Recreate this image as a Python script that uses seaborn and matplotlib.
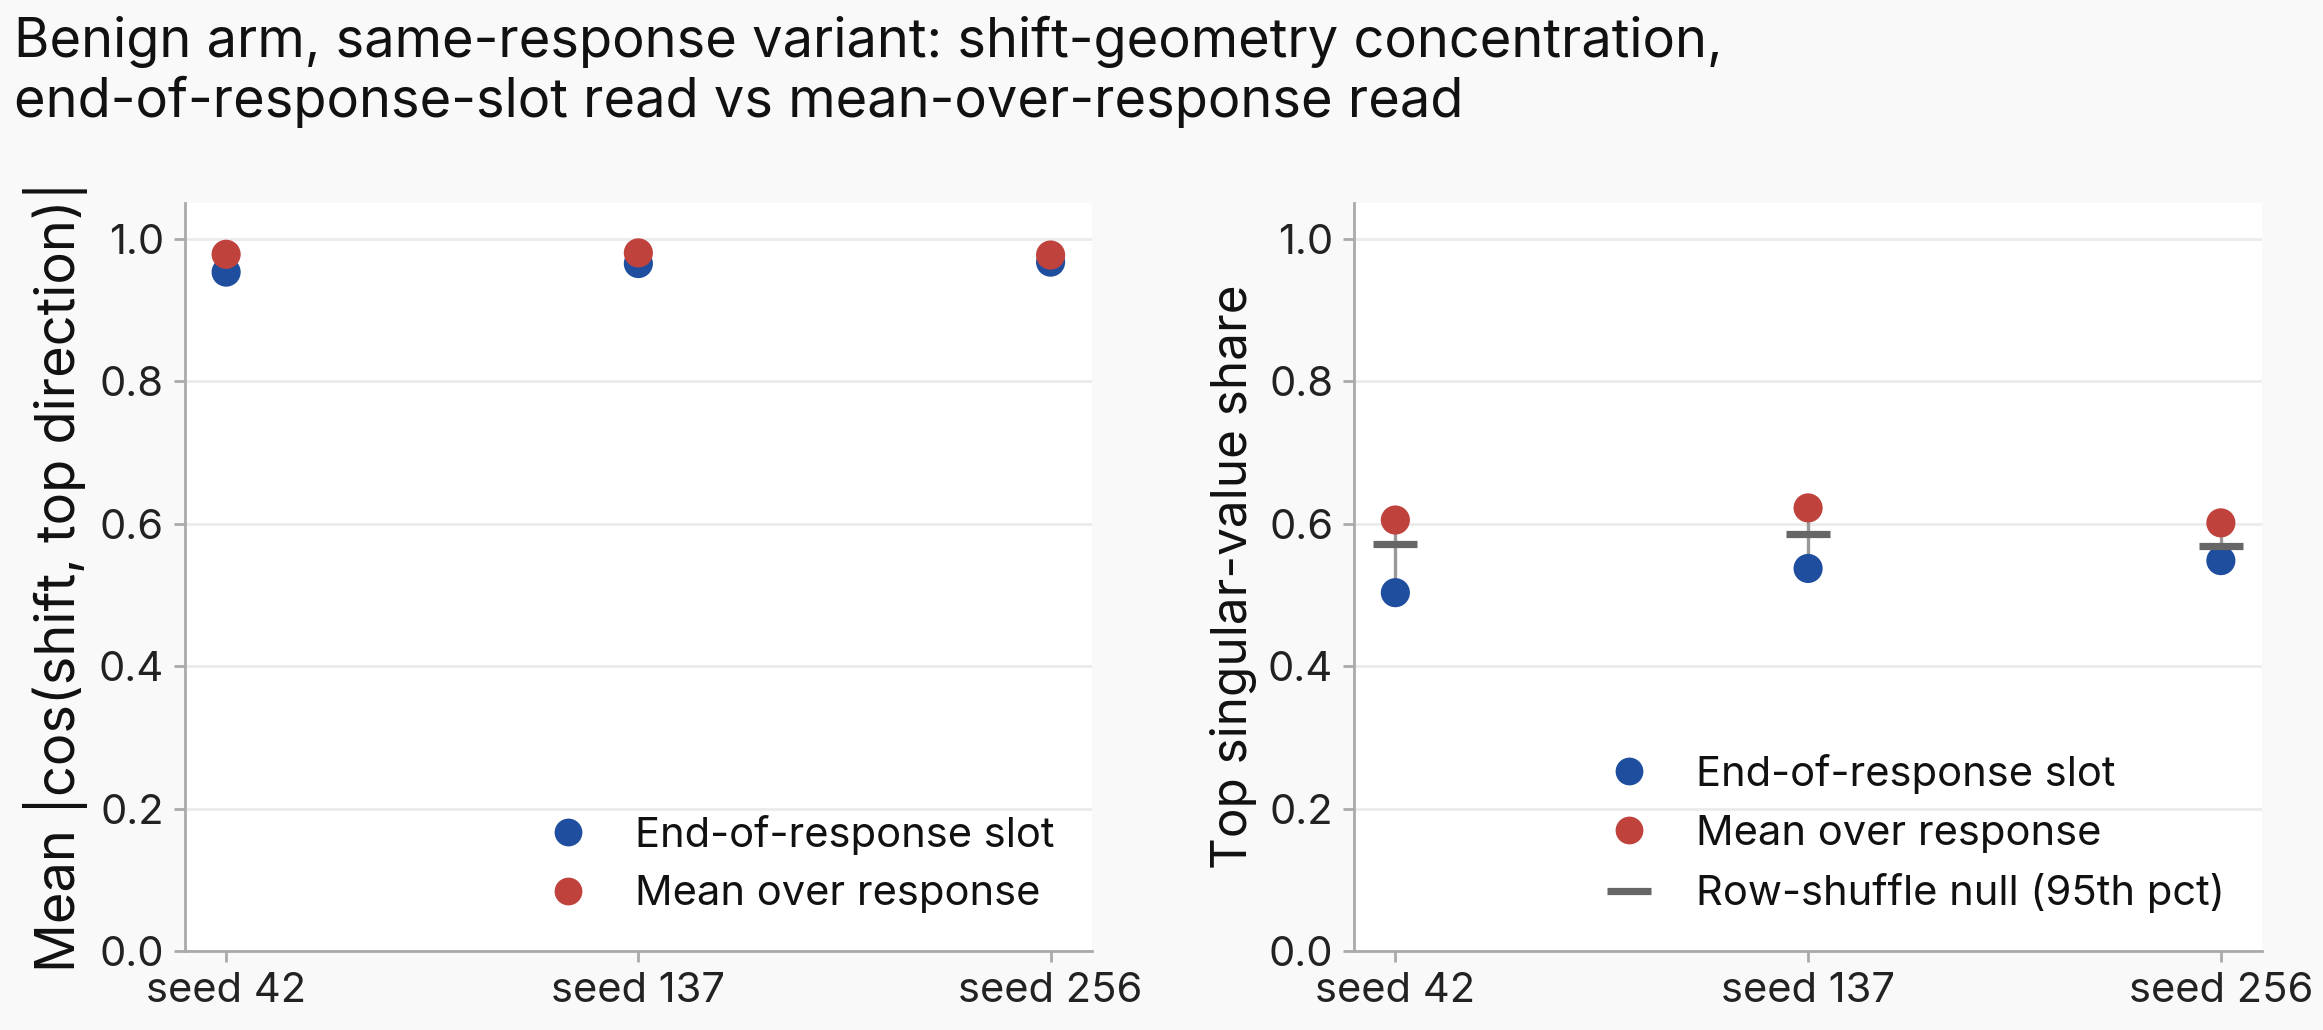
import numpy as np
import pandas as pd
import matplotlib
matplotlib.use("Agg")
import matplotlib.pyplot as plt
from matplotlib.lines import Line2D
import seaborn as sns

# data
seeds = ["seed 42", "seed 137", "seed 256"]
cos_end_slot = [0.953, 0.965, 0.967]
cos_mean_resp = [0.978, 0.980, 0.977]
share_end_slot = [0.503, 0.537, 0.548]
share_mean_resp = [0.605, 0.622, 0.601]
share_null95 = [0.572, 0.586, 0.568]

series_names = ["End-of-response slot", "Mean over response"]
colors = {"End-of-response slot": "#1f4e9f", "Mean over response": "#c0423d"}

sns.set_theme(style="white")
plt.rcParams["font.family"] = ["Inter", "DejaVu Sans"]
plt.rcParams["text.color"] = "#111111"

def long_df(a, b):
    return pd.DataFrame({
        "seed": seeds * 2,
        "value": list(a) + list(b),
        "read": [series_names[0]] * 3 + [series_names[1]] * 3,
    })

def style_ax(ax, ylabel, ylabel_size):
    ax.set_facecolor("white")
    ax.set_ylim(0, 1.05)
    ax.set_xlim(-0.1, 2.1)
    ax.set_yticks([0.0, 0.2, 0.4, 0.6, 0.8, 1.0])
    ax.set_yticklabels(["0.0", "0.2", "0.4", "0.6", "0.8", "1.0"])
    ax.grid(axis="y", color="#ebebeb", lw=1.0)
    ax.set_axisbelow(True)
    for s in ["top", "right"]:
        ax.spines[s].set_visible(False)
    for s in ["left", "bottom"]:
        ax.spines[s].set_color("#aaaaaa")
        ax.spines[s].set_linewidth(1.0)
    ax.tick_params(axis="both", colors="#aaaaaa", length=4, width=1.0,
                   labelsize=15, labelcolor="#222222", left=True, bottom=True)
    ax.set_xlabel("")
    ax.set_ylabel(ylabel, fontsize=ylabel_size, color="#111111")

fig = plt.figure(figsize=(11.615, 5.15), dpi=200, facecolor="#f9f9f9")
ax1 = fig.add_axes([0.0796, 0.0767, 0.3904, 0.7262])
ax2 = fig.add_axes([0.5829, 0.0767, 0.3909, 0.7262])

# left panel
df1 = long_df(cos_end_slot, cos_mean_resp)
ax1.vlines(seeds, np.minimum(cos_end_slot, cos_mean_resp),
           np.maximum(cos_end_slot, cos_mean_resp), color="#999999", lw=1.2, zorder=2)
sns.scatterplot(data=df1, x="seed", y="value", hue="read", palette=colors,
                s=110, linewidth=0, zorder=3, ax=ax1, legend=False)
style_ax(ax1, "Mean |cos(shift, top direction)|", 19.5)

# right panel
df2 = long_df(share_end_slot, share_mean_resp)
ax2.vlines(seeds, np.minimum(share_end_slot, share_mean_resp),
           np.maximum(share_end_slot, share_mean_resp), color="#999999", lw=1.2, zorder=2)
sns.scatterplot(data=df2, x="seed", y="value", hue="read", palette=colors,
                s=110, linewidth=0, zorder=3, ax=ax2, legend=False)
ax2.plot(seeds, share_null95, linestyle="none", marker="_", ms=16, mew=2.6,
         color="#666666", zorder=4)
style_ax(ax2, "Top singular-value share", 17.8)

pt_handles = [Line2D([], [], ls="none", marker="o", ms=10, mew=0, color=colors[n])
              for n in series_names]
null_handle = Line2D([], [], ls="none", marker="_", ms=16, mew=2.6, color="#666666")

ax1.legend(pt_handles, series_names, loc="lower right", frameon=False,
           fontsize=15, labelspacing=0.5, handletextpad=0.6)
ax2.legend(pt_handles + [null_handle],
           series_names + ["Row-shuffle null (95th pct)"],
           loc="lower right", frameon=False, fontsize=15,
           labelspacing=0.5, handletextpad=0.6)

fig.text(0.006, 0.985,
         "Benign arm, same-response variant: shift-geometry concentration,\n"
         "end-of-response-slot read vs mean-over-response read",
         ha="left", va="top", fontsize=19.5, color="#111111", linespacing=1.2)

fig.savefig("out.png", dpi=200, facecolor=fig.get_facecolor())
